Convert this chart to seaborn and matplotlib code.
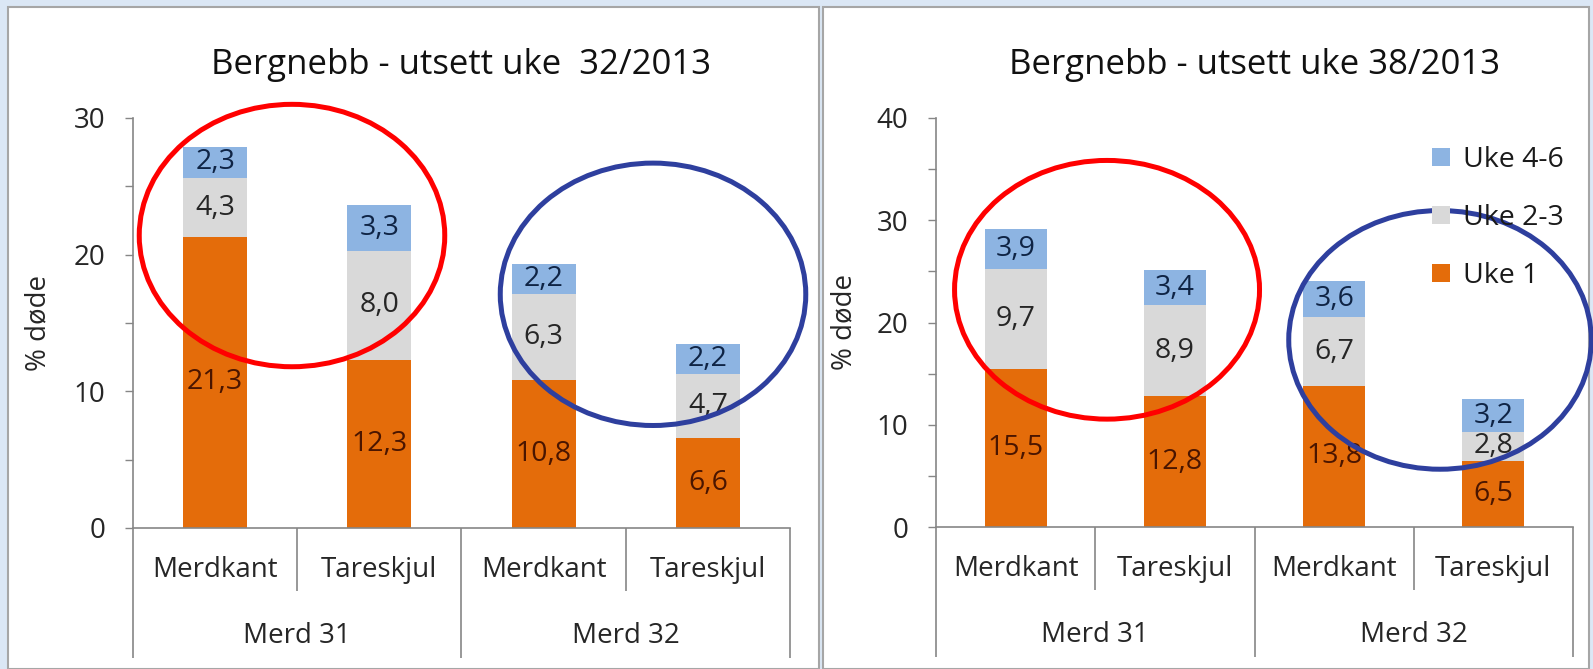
import matplotlib
matplotlib.use('Agg')
import matplotlib.pyplot as plt
import seaborn as sns
import pandas as pd
from matplotlib.patches import Ellipse, Rectangle, Patch
from matplotlib.ticker import MultipleLocator

# Data lest av figuren
merder = ['Merd 31', 'Merd 31', 'Merd 32', 'Merd 32']
plassering = ['Merdkant', 'Tareskjul', 'Merdkant', 'Tareskjul']
grupper = ['Merd 31', 'Merd 32']
serier = ['Uke 4-6', 'Uke 2-3', 'Uke 1']

# utsett uke 32/2013
uke1_32 = [21.3, 12.3, 10.8, 6.6]
uke23_32 = [4.3, 8.0, 6.3, 4.7]
uke46_32 = [2.3, 3.3, 2.2, 2.2]

# utsett uke 38/2013
uke1_38 = [15.5, 12.8, 13.8, 6.5]
uke23_38 = [9.7, 8.9, 6.7, 2.8]
uke46_38 = [3.9, 3.4, 3.6, 3.2]

ORANSJE = '#e46c0a'
GRA = '#d9d9d9'
BLA = '#8db4e2'
AKSE = '#868686'

W, H = 1593, 669

sns.set_theme(style='white')
plt.rcParams['font.family'] = ['Open Sans', 'DejaVu Sans']
plt.rcParams['text.color'] = '#1a1a1a'

fig = plt.figure(figsize=(W / 100, H / 100), dpi=100)
fig.patch.set_facecolor('#dbe7f5')

# hvite rammer rundt hvert diagram
for x0, x1 in [(8, 819), (823, 1589)]:
    fig.add_artist(Rectangle((x0 / W, 0), (x1 - x0) / W, (H - 7) / H,
                             transform=fig.transFigure, facecolor='white',
                             edgecolor='#a6a6a6', lw=1.5, zorder=0))


def fmt(v):
    return f'{v:.1f}'.replace('.', ',')


def tegn_panel(ax, uke1, uke23, uke46, tittel, ymax, ellipser):
    df = pd.DataFrame({
        'key': [f'{m} {p}' for m, p in zip(merder, plassering)],
        'uke1': uke1, 'uke23': uke23, 'uke46': uke46,
    })
    df['nivaa2'] = df['uke1'] + df['uke23']
    df['total'] = df['nivaa2'] + df['uke46']

    for col, farge in [('total', BLA), ('nivaa2', GRA), ('uke1', ORANSJE)]:
        sns.barplot(data=df, x='key', y=col, color=farge, width=0.39,
                    saturation=1, errorbar=None, linewidth=0, ax=ax)

    for i, r in df.iterrows():
        ax.text(i, r['uke1'] / 2, fmt(r['uke1']), ha='center', va='center',
                fontsize=20.5, color='#4a1500', zorder=5)
        ax.text(i, r['uke1'] + r['uke23'] / 2, fmt(r['uke23']), ha='center',
                va='center', fontsize=20.5, color='#262626', zorder=5)
        ax.text(i, r['nivaa2'] + r['uke46'] / 2, fmt(r['uke46']), ha='center',
                va='center', fontsize=20.5, color='#0f2445', zorder=5)

    ax.set_xlim(-0.5, 3.5)
    ax.set_ylim(0, ymax)
    ax.yaxis.set_major_locator(MultipleLocator(10))
    ax.yaxis.set_minor_locator(MultipleLocator(5))
    ax.tick_params(axis='y', which='both', direction='out', length=6,
                   width=1, color=AKSE, left=True, labelsize=20, pad=14,
                   labelcolor='#262626')
    ax.set_xticks(range(4), labels=plassering)
    ax.tick_params(axis='x', length=0, labelsize=20, pad=20,
                   labelcolor='#262626')
    ax.set_xlabel('')
    ax.set_ylabel('% døde', fontsize=20, color='#262626')
    ax.yaxis.set_label_coords(-0.122, 0.5)
    ax.set_title(tittel, fontsize=25, pad=32, color='#111111')

    for s in ['top', 'right']:
        ax.spines[s].set_visible(False)
    for s in ['left', 'bottom']:
        ax.spines[s].set_color(AKSE)
        ax.spines[s].set_linewidth(1.2)

    # skillelinjer i kategoriaksen
    h_px = ax.get_position().height * H
    trans = ax.get_xaxis_transform()
    ax.vlines([-0.5, 1.5, 3.5], -130 / h_px, 0, transform=trans,
              color=AKSE, lw=1.2, clip_on=False)
    ax.vlines([0.5, 2.5], -63 / h_px, 0, transform=trans,
              color=AKSE, lw=1.2, clip_on=False)
    for j, g in enumerate(grupper):
        ax.annotate(g, xy=(2 * j + 0.5, 0), xycoords=trans,
                    xytext=(0, -78), textcoords='offset points',
                    ha='center', va='center', fontsize=20, color='#262626',
                    annotation_clip=False)

    for (cx, cy, ew, eh, farge) in ellipser:
        ax.add_patch(Ellipse((cx, cy), ew, eh, fill=False, edgecolor=farge,
                             lw=3.6, zorder=6, clip_on=False))


ax1 = fig.add_axes([133 / W, 1 - 528 / H, 657 / W, 410 / H])
ax1.patch.set_alpha(0)
tegn_panel(ax1, uke1_32, uke23_32, uke46_32,
           'Bergnebb - utsett uke  32/2013', 30,
           [(0.468, 21.4, 1.86, 19.2, '#ff0000'),
            (2.666, 17.1, 1.86, 19.2, '#2e3f9e')])

ax2 = fig.add_axes([936 / W, 1 - 527 / H, 637 / W, 409 / H])
ax2.patch.set_alpha(0)
tegn_panel(ax2, uke1_38, uke23_38, uke46_38,
           'Bergnebb - utsett uke 38/2013', 40,
           [(0.574, 23.2, 1.915, 25.3, '#ff0000'),
            (2.665, 18.3, 1.90, 25.3, '#2e3f9e')])

handles = [Patch(facecolor=c, edgecolor='none') for c in [BLA, GRA, ORANSJE]]
fig.legend(handles, serier, loc='upper left',
           bbox_to_anchor=(1418 / W, 1 - 132 / H), frameon=False,
           fontsize=20.5, labelspacing=1.05, handlelength=0.62,
           handleheight=0.62, handletextpad=0.45, borderpad=0,
           labelcolor='#1a1a1a')

fig.savefig('out.png', dpi=100, facecolor=fig.get_facecolor())
